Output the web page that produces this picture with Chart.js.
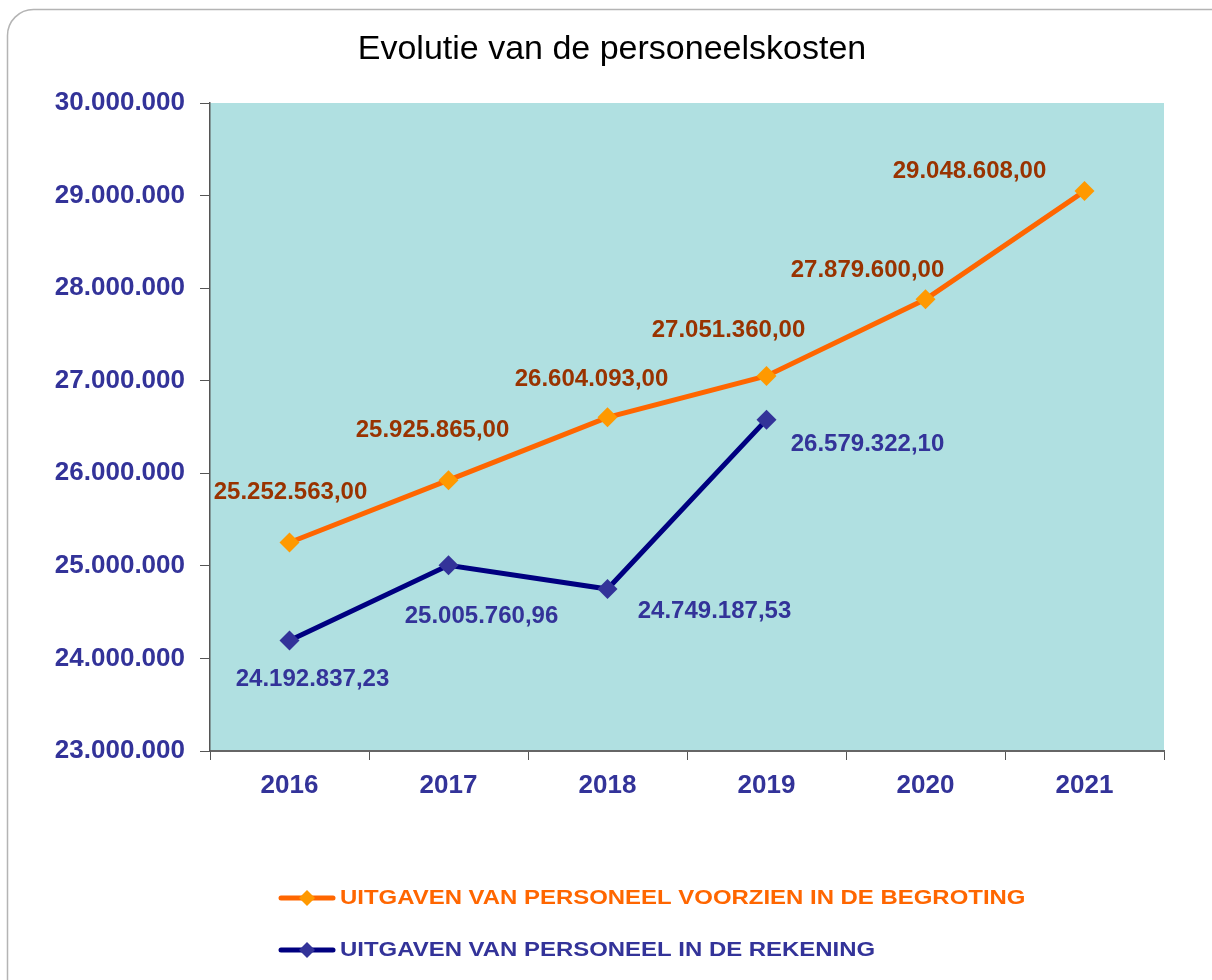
<!DOCTYPE html>
<html>
<head>
<meta charset="utf-8">
<script src="https://cdn.jsdelivr.net/npm/chart.js@4/dist/chart.umd.min.js"></script>
<style>
  html, body { margin: 0; padding: 0; background: #fff; }
  #wrap { width: 1212px; height: 980px; }
</style>
</head>
<body>
<div id="wrap"><canvas id="personeelChart" width="1212" height="980"></canvas></div>
<script>
// data
const years = ['2016', '2017', '2018', '2019', '2020', '2021'];
const begroting = [25252563.00, 25925865.00, 26604093.00, 27051360.00, 27879600.00, 29048608.00];
const rekening = [24192837.23, 25005760.96, 24749187.53, 26579322.10, null, null];
const seriesNames = [
  'UITGAVEN VAN PERSONEEL VOORZIEN IN DE BEGROTING',
  'UITGAVEN VAN PERSONEEL IN DE REKENING'
];

// number as 25.252.563,00
function nlNumber(v, decimals) {
  let s = v.toFixed(decimals);
  let parts = s.split('.');
  let whole = parts[0].replace(/\B(?=(\d{3})+(?!\d))/g, '.');
  return decimals ? whole + ',' + parts[1] : whole;
}

// where each value label sits relative to its point (dx, dy of text centre)
const labelOffsets = [
  [[1, -50], [-16, -50], [-16, -38], [-38, -46], [-58, -29], [-115, -20]],
  [[23, 39], [33, 51], [107, 22], [101, 25]]
];
const labelColors = ['#993300', '#333399'];
const FONT = '"Liberation Sans", Arial, sans-serif';

const frame = {
  id: 'frame',
  beforeDraw(chart) {
    const ctx = chart.ctx;
    const a = chart.chartArea;
    ctx.save();
    // rounded outer border
    ctx.strokeStyle = '#b4b4b4';
    ctx.lineWidth = 1.5;
    ctx.beginPath();
    ctx.roundRect(7.5, 9.5, 1240, 1000, 26);
    ctx.stroke();
    // plot area fill
    ctx.fillStyle = '#b0e0e1';
    ctx.fillRect(a.left, a.top, a.right - a.left, a.bottom - a.top);
    // title
    ctx.fillStyle = '#000';
    ctx.font = '34px ' + FONT;
    ctx.textAlign = 'center';
    ctx.textBaseline = 'middle';
    ctx.fillText('Evolutie van de personeelskosten', 612, 50);
    ctx.restore();
  },
  afterDatasetsDraw(chart) {
    const ctx = chart.ctx;
    ctx.save();
    ctx.font = 'bold 24px ' + FONT;
    ctx.textAlign = 'center';
    ctx.textBaseline = 'middle';
    chart.data.datasets.forEach((ds, i) => {
      const meta = chart.getDatasetMeta(i);
      ctx.fillStyle = labelColors[i];
      meta.data.forEach((pt, j) => {
        const v = ds.data[j];
        if (v == null) return;
        const off = labelOffsets[i][j];
        ctx.fillText(nlNumber(v, 2), pt.x + off[0], pt.y + off[1]);
      });
    });
    ctx.restore();
  },
  afterDraw(chart) {
    // legend: line with a diamond in the middle, then the series name
    const ctx = chart.ctx;
    const rows = [898, 950];
    ctx.save();
    chart.data.datasets.forEach((ds, i) => {
      const y = rows[i];
      ctx.strokeStyle = ds.borderColor;
      ctx.lineWidth = 5;
      ctx.lineCap = 'round';
      ctx.beginPath();
      ctx.moveTo(281, y);
      ctx.lineTo(333, y);
      ctx.stroke();
      ctx.fillStyle = ds.pointBackgroundColor;
      ctx.beginPath();
      ctx.moveTo(307, y - 8);
      ctx.lineTo(315, y);
      ctx.lineTo(307, y + 8);
      ctx.lineTo(299, y);
      ctx.closePath();
      ctx.fill();
      // legend text is drawn a bit wider than high, like the original
      ctx.save();
      ctx.translate(340, y);
      ctx.scale(1.14, 1);
      ctx.font = 'bold 21px ' + FONT;
      ctx.textAlign = 'left';
      ctx.textBaseline = 'middle';
      ctx.fillStyle = i === 0 ? '#ff6600' : '#333399';
      ctx.fillText(seriesNames[i], 0, 0);
      ctx.restore();
    });
    ctx.restore();
  }
};

const ctx = document.getElementById('personeelChart');
const chart = new Chart(ctx, {
  type: 'line',
  data: {
    labels: years,
    datasets: [{
      label: seriesNames[0],
      data: begroting,
      borderColor: '#ff6600',
      borderWidth: 5,
      pointStyle: 'rectRot',
      pointRadius: 10,
      pointBackgroundColor: '#ff9900',
      pointBorderWidth: 0,
      tension: 0
    }, {
      label: seriesNames[1],
      data: rekening,
      borderColor: '#000080',
      borderWidth: 5,
      pointStyle: 'rectRot',
      pointRadius: 10,
      pointBackgroundColor: '#333399',
      pointBorderWidth: 0,
      tension: 0,
      spanGaps: false
    }]
  },
  options: {
    responsive: false,
    animation: false,
    devicePixelRatio: 1,
    layout: { padding: { top: 103, right: 48, bottom: 169, left: 0 } },
    plugins: {
      legend: { display: false },
      title: { display: false },
      tooltip: { enabled: false }
    },
    scales: {
      x: {
        offset: true,
        afterFit(scale) { scale.height = 60; },
        grid: {
          offset: true,
          drawOnChartArea: false,
          tickLength: 9,
          color: '#555',
          lineWidth: 1
        },
        border: { color: '#666', width: 2 },
        ticks: {
          color: '#333399',
          padding: 10,
          font: { family: FONT, size: 26, weight: 'bold' }
        }
      },
      y: {
        min: 23000000,
        max: 30000000,
        afterFit(scale) { scale.width = 210; },
        grid: {
          drawOnChartArea: false,
          tickLength: 10,
          color: '#555',
          lineWidth: 1
        },
        border: { color: '#555', width: 1.5 },
        ticks: {
          stepSize: 1000000,
          color: '#333399',
          padding: 15,
          font: { family: FONT, size: 26, weight: 'bold' },
          callback: (v) => nlNumber(v, 0)
        }
      }
    }
  },
  plugins: [frame]
});
</script>
</body>
</html>
